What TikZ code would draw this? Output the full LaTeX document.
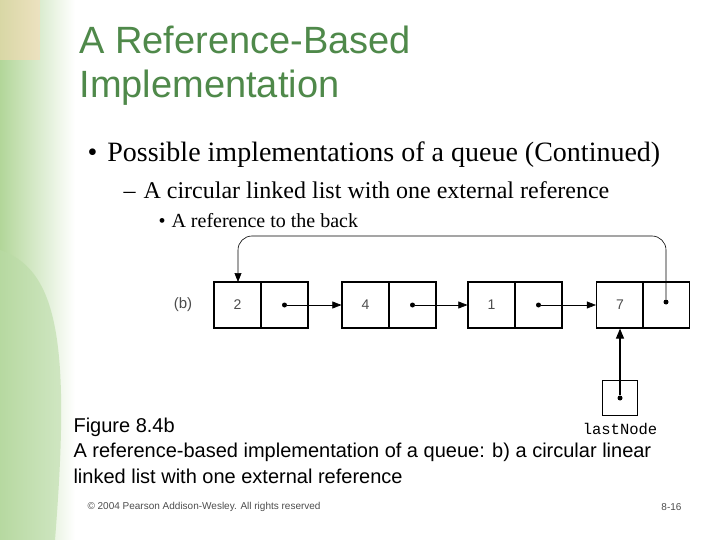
\documentclass[tikz,border=0pt]{standalone}
\usepackage{fontspec}
\setmainfont{Liberation Serif}
\setsansfont{Liberation Sans}
\setmonofont{Liberation Mono}
\usetikzlibrary{arrows.meta}
\begin{document}
\begin{tikzpicture}[x=1pt,y=-1pt,
  cell/.style={draw,line width=1.2pt,minimum width=47pt,minimum height=46pt,inner sep=0pt,font=\sffamily\fontsize{14}{14}\selectfont,text=black!70},
  dotn/.style={circle,fill=black,inner sep=0pt,minimum size=5pt},
  ptr/.style={-{Triangle[length=9pt,width=7pt]},line width=0.6pt}]
\useasboundingbox (0,0) rectangle (720,540);
% background decoration
\shade[left color=green!45!lime!60!black!40, right color=white] (0,0) rectangle (75,540);
\fill[green!50!lime!60!black!35,opacity=0.6] (0,250) .. controls (60,270) and (70,350) .. (55,540) -- (0,540) -- cycle;
\fill[orange!30,opacity=0.5] (0,0) rectangle (40,60);
% title
\node[anchor=west,font=\sffamily\fontsize{38}{38}\selectfont,text={rgb,255:red,79;green,137;blue,74}] (t1) at (76,40) {A Reference-Based};
\node[anchor=west,font=\sffamily\fontsize{38}{38}\selectfont,text={rgb,255:red,79;green,137;blue,74}] (t2) at (76,88) {Implementation};
\node[anchor=west,font=\fontsize{28}{28}\selectfont] (b1) at (84,155) {\textbullet\hspace{10pt}Possible implementations of a queue (Continued)};
\node[anchor=west,font=\fontsize{24}{24}\selectfont] (b2) at (120,190) {–\hspace{8pt}A circular linked list with one external reference};
\node[anchor=west,font=\fontsize{20}{20}\selectfont] (b3) at (155,221) {\textbullet\hspace{6pt}A reference to the back};
% diagram
\node[font=\sffamily\fontsize{15}{15}\selectfont,text=black!70] (lb) at (183,305) {(b)};
\node[cell] (a1) at (237.5,305) {2}; \node[cell] (a2) at (284.5,305) {};
\node[cell] (b1c) at (365.5,305) {4}; \node[cell] (b2c) at (412.5,305) {};
\node[cell] (c1) at (491.5,305) {1}; \node[cell] (c2) at (538.5,305) {};
\node[cell] (d1) at (620,305) {7}; \node[cell] (d2) at (666,305) {};
\node[dotn] (p1) at (a2) {}; \node[dotn] (p2) at (b2c) {}; \node[dotn] (p3) at (c2) {};
\node[dotn] (p4) at (666,302) {};
\draw[ptr] (p1) -- (b1c.west);
\draw[ptr] (p2) -- (c1.west);
\draw[ptr] (p3) -- (d1.west);
\draw[ptr,rounded corners=14pt] (p4) -- (666,236) -- (238,236) -- (238,282);
\node[draw,line width=1.2pt,minimum width=35pt,minimum height=35pt,inner sep=0pt] (ln) at (620,398) {};
\node[dotn] (lp) at (ln) {};
\draw[-{Triangle[length=10pt,width=8pt]},line width=1.2pt] (lp) -- (d1.south);
\node[font=\ttfamily\fontsize{15.5}{15.5}\selectfont] (lnl) at (620,429) {lastNode};
% caption
\node[anchor=west,font=\sffamily\fontsize{20}{20}\selectfont] (fig) at (70,427) {Figure 8.4b};
\node[anchor=west,font=\sffamily\fontsize{20}{20}\selectfont] (c1l) at (70,452) {A reference-based implementation of a queue: b) a circular linear};
\node[anchor=west,font=\sffamily\fontsize{20}{20}\selectfont] (c2l) at (70,476) {linked list with one external reference};
\node[anchor=west,font=\sffamily\fontsize{10}{10}\selectfont,text=black!70] (ft) at (84,507) {© 2004 Pearson Addison-Wesley. All rights reserved};
\node[anchor=east,font=\sffamily\fontsize{10}{10}\selectfont,text=black!70] (pg) at (685,507) {8-16};
\end{tikzpicture}
\end{document}
